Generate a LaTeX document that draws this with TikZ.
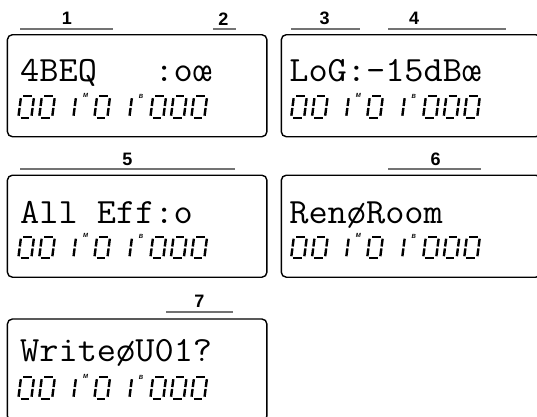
\documentclass[tikz,border=0pt]{standalone}
\usepackage{fontspec}
\setsansfont{Liberation Sans}
\newfontfamily\lcdfont{Latin Modern Mono}[FakeStretch=1.05]
\usetikzlibrary{positioning}

\begin{document}
\begin{tikzpicture}[
    x=1pt, y=-1pt,
    node distance=13pt,
    display/.style={
        draw,
        line width=1.4pt,
        rounded corners=5pt,
        inner sep=0pt,
        minimum width=259.5pt,
        minimum height=102pt
    },
    readout/.style={
        font=\lcdfont\fontsize{35.5}{36}\selectfont,
        anchor=base west,
        inner sep=0pt
    },
    tag/.style={
        font=\sffamily\bfseries\fontsize{18}{18}\selectfont,
        inner sep=0pt
    },
    flag/.style={
        font=\sffamily\bfseries\itshape\fontsize{6}{6}\selectfont,
        inner sep=0pt
    },
    rule/.style={draw=black!55, line width=1.7pt},
    seg/.style={line width=2.4pt, line cap=butt},
    segzero/.pic={
        \begin{scope}[xslant=0.13]
        \draw[seg] (2.3,0) -- (10.7,0);
        \draw[seg] (2.3,-21.5) -- (10.7,-21.5);
        \draw[seg] (0,-2) -- (0,-9.8);
        \draw[seg] (0,-11.7) -- (0,-19.5);
        \draw[seg] (13,-2) -- (13,-9.8);
        \draw[seg] (13,-11.7) -- (13,-19.5);
        \end{scope}
    },
    segone/.pic={
        \begin{scope}[xslant=0.13]
        \draw[seg] (13,-2) -- (13,-9.8);
        \draw[seg] (13,-11.7) -- (13,-19.5);
        \end{scope}
    },
    counter/.pic={
        \foreach \dx in {0,20.8,76,132,152.5,173}
            \pic at (\dx+1.3,-1.3) {segzero};
        \foreach \dx in {42,98}
            \pic at (\dx+1.3,-1.3) {segone};
        \node[flag] (-m) at (68.5,-24) {M};
        \node[flag] (-b) at (124,-23) {B};
    }
]

\useasboundingbox (0,0) rectangle (537,416);
\clip (0,0) rectangle (537,416);

% the seven display screens
\node[display, anchor=north west] (disp1) at (6.7,34) {};
\node[display, right=of disp1] (disp2) {};
\node[display, below=37.1pt of disp1] (disp5) {};
\node[display, right=of disp5] (disp6) {};
\node[display, below=40.4pt of disp5] (disp7) {};

% upper lines
\node[readout] (txt1) at ([shift={(13.3,47.5)}]disp1.north west) {4BEQ~~~:oœ};
\node[readout] (txt2) at ([shift={(8.5,47)}]disp2.north west) {LoG:-15dBœ};
\node[readout] (txt5) at ([shift={(13.3,48.5)}]disp5.north west) {All~Eff:o};
\node[readout] (txt6) at ([shift={(8.5,48.5)}]disp6.north west) {RenøRoom};
\node[readout] (txt7) at ([shift={(13.3,43.2)}]disp7.north west) {WriteøU01?};

% lower lines
\pic (cnt1) at ([shift={(10.3,85)}]disp1.north west) {counter};
\pic (cnt2) at ([shift={(9.2,85)}]disp2.north west) {counter};
\pic (cnt5) at ([shift={(10.3,85)}]disp5.north west) {counter};
\pic (cnt6) at ([shift={(9.2,85)}]disp6.north west) {counter};
\pic (cnt7) at ([shift={(10.3,81.7)}]disp7.north west) {counter};

% numbered parts above the screens
\node[tag] (tag1) at (67,18.8) {1};
\node[tag] (tag2) at (223.5,18.8) {2};
\node[tag] (tag3) at (324.7,18.8) {3};
\node[tag] (tag4) at (414,18.8) {4};
\node[tag] (tag5) at (127.5,159.5) {5};
\node[tag] (tag6) at (435.5,159.5) {6};
\node[tag] (tag7) at (199.5,300.8) {7};

\draw[rule] (20,29.3) -- (113,29.3);
\draw[rule] (213,29.3) -- (236,29.3);
\draw[rule] (291,29.3) -- (360,29.3);
\draw[rule] (388,29.3) -- (506,29.3);
\draw[rule] (20,169.3) -- (235,169.3);
\draw[rule] (388,169.3) -- (481,169.3);
\draw[rule] (166,312.3) -- (233,312.3);

\end{tikzpicture}
\end{document}
